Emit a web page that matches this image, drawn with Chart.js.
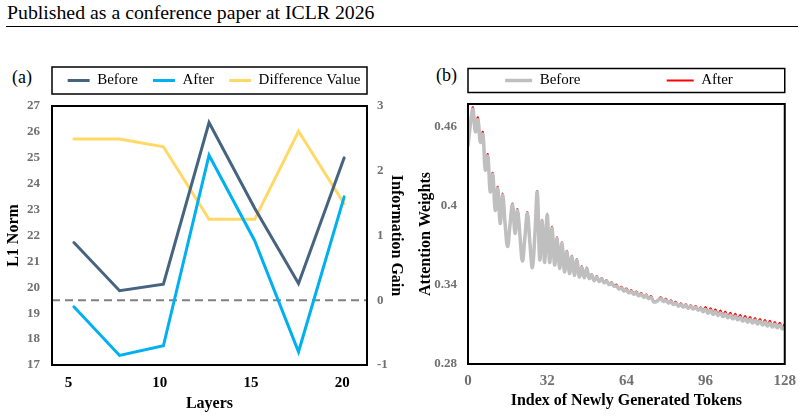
<!DOCTYPE html>
<html>
<head>
<meta charset="utf-8">
<script src="https://cdn.jsdelivr.net/npm/chart.js"></script>
<style>
  body { margin: 0; width: 804px; height: 418px; position: relative; background: #fff; overflow: hidden; font-family: "Liberation Serif", serif; }
  #head { position: absolute; left: 7px; top: 1px; font-size: 19.8px; line-height: 22px; color: #000; white-space: nowrap; }
  #rule { position: absolute; left: 6px; top: 26px; width: 792px; height: 1px; background: #000; }
  .tag { position: absolute; font-size: 18px; line-height: 18px; color: #000; }
  canvas { position: absolute; }
</style>
</head>
<body>
<div id="head">Published as a conference paper at ICLR 2026</div>
<div id="rule"></div>
<span class="tag" style="left:12px;top:68px">(a)</span>
<span class="tag" style="left:436px;top:66px">(b)</span>
<canvas id="chartA" width="406" height="368" style="left:0;top:50px"></canvas>
<canvas id="chartB" width="400" height="368" style="left:404px;top:50px"></canvas>
<script>
// (a) L1 norm per layer
var layers = [5.3, 7.8, 10.2, 12.7, 15.2, 17.6, 20.1];
var layerTicks = [5, 10, 15, 20];
var normBefore = [21.73, 19.87, 20.12, 26.36, 23.05, 20.15, 25.0];
var normAfter = [19.25, 17.37, 17.74, 25.1, 21.8, 17.51, 23.49];
var infoGain = [2.49, 2.49, 2.37, 1.25, 1.25, 2.61, 1.49];
var gainBaseline = 0;

// (b) attention weights of newly generated tokens
var tokens = Array.from({ length: 129 }, function (_, i) { return i; });
var weightTicks = [0.28, 0.34, 0.4, 0.46];
var tokenTicks = [0, 32, 64, 96, 128];
var weightBefore = [
  0.4450, 0.4620, 0.4730, 0.4560, 0.4650, 0.4480, 0.4540, 0.4270, 0.4375, 0.4105,
  0.4235, 0.3965, 0.4130, 0.3865, 0.4080, 0.3860, 0.3690, 0.3860, 0.4005, 0.3790,
  0.3965, 0.3770, 0.3580, 0.3760, 0.3940, 0.3720, 0.3530, 0.3770, 0.4100, 0.3590,
  0.3885, 0.3570, 0.3930, 0.3570, 0.3830, 0.3550, 0.3750, 0.3525, 0.3713, 0.3498,
  0.3650, 0.3486, 0.3612, 0.3473, 0.3587, 0.3460, 0.3532, 0.3453, 0.3524, 0.3448,
  0.3473, 0.3430, 0.3460, 0.3425, 0.3445, 0.3415, 0.3428, 0.3402, 0.3412, 0.3390,
  0.3391, 0.3368, 0.3376, 0.3353, 0.3362, 0.3339, 0.3350, 0.3328, 0.3339, 0.3317,
  0.3328, 0.3306, 0.3317, 0.3295, 0.3304, 0.3272, 0.3271, 0.3285, 0.3295, 0.3274,
  0.3284, 0.3262, 0.3273, 0.3251, 0.3261, 0.3238, 0.3250, 0.3231, 0.3243, 0.3223,
  0.3236, 0.3216, 0.3229, 0.3208, 0.3219, 0.3195, 0.3214, 0.3185, 0.3205, 0.3176,
  0.3196, 0.3168, 0.3187, 0.3159, 0.3179, 0.3150, 0.3170, 0.3142, 0.3162, 0.3134,
  0.3153, 0.3125, 0.3145, 0.3117, 0.3138, 0.3110, 0.3131, 0.3103, 0.3123, 0.3096,
  0.3116, 0.3088, 0.3109, 0.3081, 0.3101, 0.3074, 0.3094, 0.3066, 0.3080
];
var weightAfter = [
  0.4455, 0.4625, 0.4745, 0.4565, 0.4668, 0.4485, 0.4558, 0.4275, 0.4390, 0.4110,
  0.4248, 0.3970, 0.4142, 0.3870, 0.4092, 0.3865, 0.3695, 0.3865, 0.4015, 0.3795,
  0.3975, 0.3775, 0.3585, 0.3765, 0.3950, 0.3725, 0.3535, 0.3775, 0.4108, 0.3595,
  0.3892, 0.3575, 0.3940, 0.3575, 0.3840, 0.3555, 0.3760, 0.3530, 0.3722, 0.3503,
  0.3658, 0.3491, 0.3620, 0.3478, 0.3595, 0.3465, 0.3540, 0.3458, 0.3532, 0.3453,
  0.3480, 0.3435, 0.3467, 0.3430, 0.3452, 0.3420, 0.3435, 0.3407, 0.3419, 0.3395,
  0.3401, 0.3372, 0.3386, 0.3357, 0.3372, 0.3343, 0.3360, 0.3332, 0.3349, 0.3321,
  0.3338, 0.3310, 0.3327, 0.3299, 0.3314, 0.3276, 0.3275, 0.3291, 0.3305, 0.3278,
  0.3294, 0.3266, 0.3283, 0.3255, 0.3271, 0.3242, 0.3260, 0.3235, 0.3253, 0.3227,
  0.3246, 0.3220, 0.3239, 0.3212, 0.3229, 0.3201, 0.3232, 0.3191, 0.3223, 0.3182,
  0.3214, 0.3174, 0.3205, 0.3165, 0.3197, 0.3156, 0.3188, 0.3148, 0.3180, 0.3140,
  0.3171, 0.3131, 0.3163, 0.3123, 0.3156, 0.3116, 0.3149, 0.3109, 0.3141, 0.3102,
  0.3134, 0.3094, 0.3127, 0.3087, 0.3119, 0.3080, 0.3112, 0.3074, 0.3105
];

var serif = "'Liberation Serif', 'Times New Roman', serif";
var tickGray = "#707070";

// frame round the plot and round the legend, legend spacing
var framePlugin = {
  id: "frame",
  afterInit: function (chart, args, opts) {
    var lg = chart.legend;
    var fit = lg.fit;
    lg.fit = function () {
      fit.call(this);
      this.height += opts.legendExtra;
    };
  },
  afterLayout: function (chart, args, opts) {
    chart.legend.left += opts.legendShift;
    chart.legend.right += opts.legendShift;
  },
  afterDraw: function (chart, args, opts) {
    var ctx = chart.ctx;
    var a = chart.chartArea;
    var cy = chart.legend.top + opts.legendPad + opts.legendFont / 2;
    ctx.save();
    ctx.strokeStyle = "#000";
    ctx.lineWidth = 2;
    ctx.strokeRect(a.left, a.top, a.right - a.left, a.bottom - a.top);
    ctx.lineWidth = 1.5;
    ctx.strokeRect(a.left, cy - opts.legendBoxH / 2, a.right - a.left, opts.legendBoxH);
    ctx.restore();
  },
};

// dashed line at zero information gain
var zeroLine = {
  id: "zeroLine",
  beforeDatasetsDraw: function (chart) {
    var ctx = chart.ctx;
    var a = chart.chartArea;
    var y = chart.scales.yRight.getPixelForValue(gainBaseline);
    ctx.save();
    ctx.strokeStyle = "#808080";
    ctx.lineWidth = 2;
    ctx.setLineDash([8, 5]);
    ctx.beginPath();
    ctx.moveTo(a.left, y);
    ctx.lineTo(a.right, y);
    ctx.stroke();
    ctx.restore();
  },
};

var chartA = new Chart(document.getElementById("chartA"), {
  type: "line",
  data: {
    labels: layers,
    datasets: [
      {
        label: "Before",
        data: normBefore,
        yAxisID: "y",
        borderColor: "#466480",
        backgroundColor: "#466480",
        borderWidth: 3,
        borderCapStyle: "round",
        pointRadius: 0,
        tension: 0,
      },
      {
        label: "After",
        data: normAfter,
        yAxisID: "y",
        borderColor: "#00B0F0",
        backgroundColor: "#00B0F0",
        borderWidth: 3,
        borderCapStyle: "round",
        pointRadius: 0,
        tension: 0,
      },
      {
        label: "Difference Value",
        data: infoGain,
        yAxisID: "yRight",
        borderColor: "#FFD966",
        backgroundColor: "#FFD966",
        borderWidth: 3,
        borderCapStyle: "round",
        pointRadius: 0,
        tension: 0,
      },
    ],
  },
  options: {
    responsive: false,
    animation: false,
    devicePixelRatio: 1,
    layout: { padding: { top: 8, left: 4, right: 0, bottom: 0 } },
    plugins: {
      tooltip: { enabled: false },
      legend: {
        position: "top",
        labels: {
          usePointStyle: true,
          pointStyle: "line",
          pointStyleWidth: 22,
          padding: 15,
          color: "#000",
          font: { family: serif, size: 15 },
        },
      },
      frame: { legendExtra: 8, legendShift: 9, legendPad: 15, legendFont: 15, legendBoxH: 27 },
    },
    scales: {
      x: {
        type: "linear",
        min: 4.1,
        max: 21.35,
        grid: { display: false, drawTicks: false },
        border: { display: false },
        afterBuildTicks: function (s) {
          s.ticks = layerTicks.map(function (v) { return { value: v }; });
        },
        afterFit: function (s) { s.height = 53; },
        ticks: { padding: 9, color: "#000", font: { family: serif, size: 15, weight: "bold" } },
        title: { display: true, text: "Layers", color: "#000", padding: { top: 0, bottom: 5 }, font: { family: serif, size: 16, weight: "bold" } },
      },
      y: {
        position: "left",
        min: 17,
        max: 27,
        grid: { display: false, drawTicks: false },
        border: { display: false },
        afterFit: function (s) { s.width = 48; },
        ticks: { stepSize: 1, padding: 12, color: tickGray, font: { family: serif, size: 13, weight: "bold" } },
        title: { display: true, text: "L1 Norm", color: "#000", padding: 0, font: { family: serif, size: 16, weight: "bold" } },
      },
      yRight: {
        position: "right",
        min: -1,
        max: 3,
        grid: { display: false, drawTicks: false },
        border: { display: false },
        afterFit: function (s) { s.width = 39; },
        ticks: { stepSize: 1, padding: 10, color: tickGray, font: { family: serif, size: 13, weight: "bold" } },
        title: { display: true, text: "Information Gain", color: "#000", padding: 0, font: { family: serif, size: 16, weight: "bold" } },
      },
    },
  },
  plugins: [framePlugin, zeroLine],
});

var chartB = new Chart(document.getElementById("chartB"), {
  type: "line",
  data: {
    labels: tokens,
    datasets: [
      {
        label: "Before",
        data: weightBefore,
        borderColor: "#BFBFBF",
        backgroundColor: "#BFBFBF",
        borderWidth: 3.5,
        pointRadius: 0,
        tension: 0.4,
      },
      {
        label: "After",
        data: weightAfter,
        borderColor: "#FF0000",
        backgroundColor: "#FF0000",
        borderWidth: 2,
        pointRadius: 0,
        tension: 0.4,
      },
    ],
  },
  options: {
    responsive: false,
    animation: false,
    devicePixelRatio: 1,
    layout: { padding: { top: 8, left: 4, right: 18, bottom: 0 } },
    plugins: {
      tooltip: { enabled: false },
      legend: {
        position: "top",
        labels: {
          usePointStyle: true,
          pointStyle: "line",
          pointStyleWidth: 27,
          padding: 15,
          color: "#000",
          font: { family: serif, size: 15 },
          generateLabels: function (chart) {
            var items = Chart.defaults.plugins.legend.labels.generateLabels(chart);
            items[0].text = items[0].text + " ".repeat(19);
            return items;
          },
        },
      },
      frame: { legendExtra: 6, legendShift: 22, legendPad: 15, legendFont: 15, legendBoxH: 24 },
    },
    scales: {
      x: {
        type: "linear",
        min: 0,
        max: 128,
        grid: { display: false, drawTicks: false },
        border: { display: false },
        afterBuildTicks: function (s) {
          s.ticks = tokenTicks.map(function (v) { return { value: v }; });
        },
        afterFit: function (s) { s.height = 54; },
        ticks: { padding: 8, color: tickGray, font: { family: serif, size: 15, weight: "bold" } },
        title: { display: true, text: "Index of Newly Generated Tokens", color: "#000", padding: { top: 0, bottom: 8 }, font: { family: serif, size: 16, weight: "bold" } },
      },
      y: {
        min: 0.28,
        max: 0.477,
        grid: { display: false, drawTicks: false },
        border: { display: false },
        afterBuildTicks: function (s) {
          s.ticks = weightTicks.map(function (v) { return { value: v }; });
        },
        afterFit: function (s) { s.width = 60; },
        ticks: {
          padding: 11,
          color: tickGray,
          font: { family: serif, size: 13, weight: "bold" },
          callback: function (v) { return String(+v.toFixed(2)); },
        },
        title: { display: true, text: "Attention Weights", color: "#000", padding: { top: 8, bottom: 0 }, font: { family: serif, size: 16, weight: "bold" } },
      },
    },
  },
  plugins: [framePlugin],
});
</script>
</body>
</html>
